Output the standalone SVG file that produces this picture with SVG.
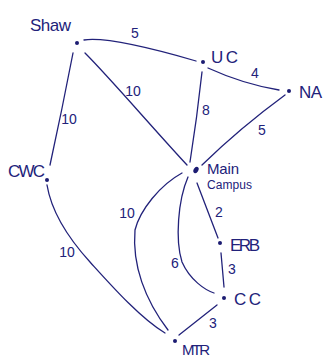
<svg xmlns="http://www.w3.org/2000/svg" width="324" height="357" viewBox="0 0 324 357">
<style>
.e{fill:none;stroke:#22227a;stroke-width:1.3;stroke-linecap:round}
.d{fill:#1c1c72}
.n{font-family:"Liberation Sans",Arial,sans-serif;fill:#22227a;font-size:17px}
.w{font-family:"Liberation Sans",Arial,sans-serif;fill:#22227a;font-size:14px;text-anchor:middle}
</style>
<rect width="324" height="357" fill="#ffffff"/>
<g id="edges">
<path class="e" d="M84,40 Q110,36 196,61"/>
<path class="e" d="M85,53 C110,78 150,125 187,165"/>
<path class="e" d="M73,53 Q62,110 50,165"/>
<path class="e" d="M47,185 C52,215 70,240 90,262 S140,318 165,333"/>
<path class="e" d="M182,173 C160,185 140,210 135,230 C132,265 145,300 168,330"/>
<path class="e" d="M188,177 C178,200 175,240 182,262 C190,280 205,290 214,293"/>
<path class="e" d="M197,183 L218,238"/>
<path class="e" d="M221,253 L224,287"/>
<path class="e" d="M217,305 L179,335"/>
<path class="e" d="M202,72 Q197,118 190,162"/>
<path class="e" d="M208,68 Q243,84 279,90"/>
<path class="e" d="M285,95 Q240,128 202,165"/>
<text class="w" x="135" y="38">5</text>
<text class="w" x="133" y="96">10</text>
<text class="w" x="69" y="124">10</text>
<text class="w" x="206" y="115">8</text>
<text class="w" x="255" y="78">4</text>
<text class="w" x="262" y="135">5</text>
<text class="w" x="219" y="217">2</text>
<text class="w" x="232" y="274">3</text>
<text class="w" x="213" y="328">3</text>
<text class="w" x="175" y="268">6</text>
<text class="w" x="127" y="218">10</text>
<text class="w" x="67" y="257">10</text>
</g>
<g id="shaw"><circle class="d" cx="77" cy="43" r="2"/><text class="n" x="30" y="31" textLength="41">Shaw</text></g>
<g id="uc"><circle class="d" cx="203" cy="62" r="2"/><text class="n" x="211" y="63" textLength="27">UC</text></g>
<g id="na"><circle class="d" cx="289" cy="91" r="2"/><text class="n" x="299" y="98" textLength="23">NA</text></g>
<g id="main"><ellipse class="d" cx="196" cy="170" rx="2.3" ry="3.4" transform="rotate(30 196 170)"/><text class="n" x="207" y="174" style="font-size:15px" textLength="32">Main</text><text class="n" x="207" y="189" style="font-size:12px" textLength="45">Campus</text></g>
<g id="cwc"><circle class="d" cx="47" cy="180" r="2"/><text class="n" x="8" y="177" textLength="37">CWC</text></g>
<g id="erb"><circle class="d" cx="220" cy="243" r="2"/><text class="n" x="230" y="251" textLength="30">ERB</text></g>
<g id="cc"><circle class="d" cx="224" cy="298" r="2"/><text class="n" x="234" y="305" textLength="27">CC</text></g>
<g id="mtr"><circle class="d" cx="175" cy="341" r="2"/><text class="n" x="182" y="355" style="font-size:15px" textLength="28">MTR</text></g>
</svg>
